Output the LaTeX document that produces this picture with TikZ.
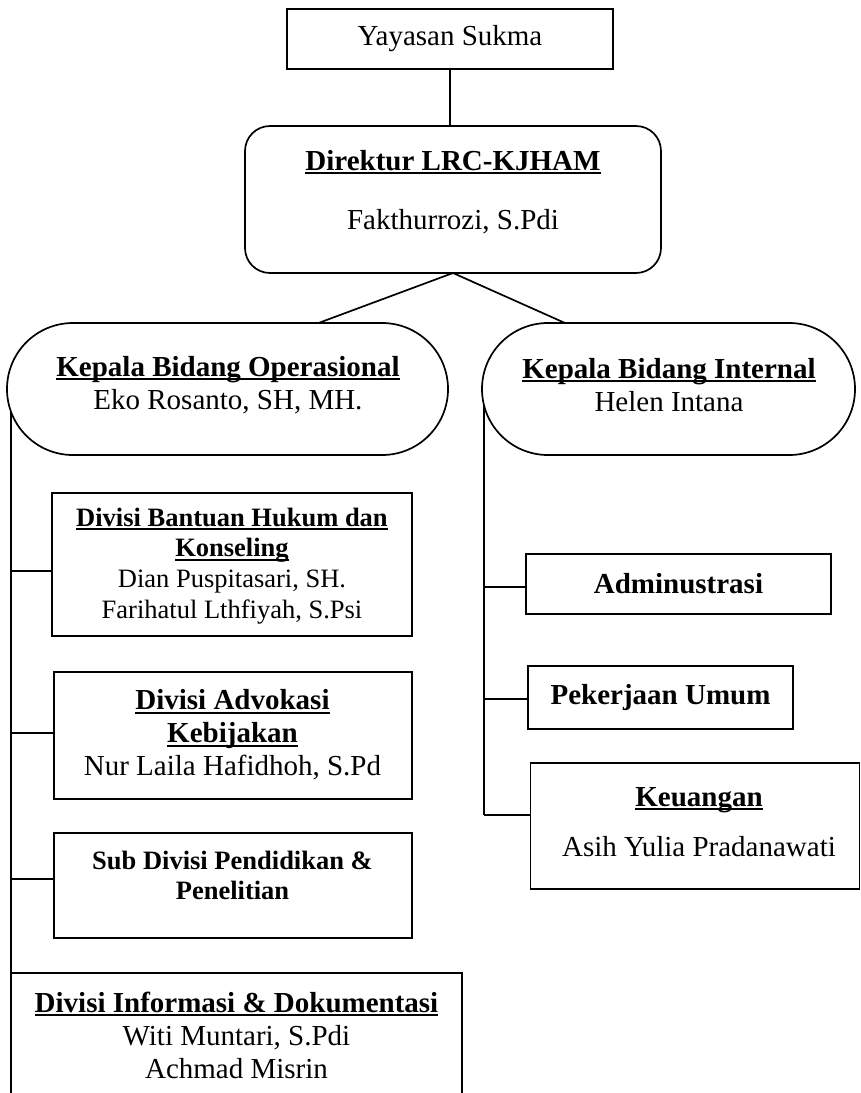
\documentclass[tikz,border=0pt]{standalone}
\usepackage{fontspec}
\setmainfont{Liberation Serif}
\usetikzlibrary{backgrounds,calc}
\newcommand\szA{\fontsize{29}{33}\selectfont}
\newcommand\szB{\fontsize{26.5}{30.7}\selectfont}
\newcommand\ulx[1]{\setbox0=\hbox{#1}\rlap{\rule[-4pt]{\wd0}{2pt}}\box0}
\begin{document}
\begin{tikzpicture}[x=1pt,y=-1pt,line width=1.7pt,
  box/.style={draw,fill=white,rectangle,inner sep=0pt,outer sep=0pt},
  pill/.style={draw,fill=white,rectangle,rounded corners=65.9pt,inner sep=0pt,outer sep=0pt},
  txt/.style={align=center,inner sep=0pt},
  link/.style={line width=1.7pt}]
\useasboundingbox (0,0) rectangle (861,1093);
\clip (0,0) rectangle (861,1093);

% top
\node[box,minimum width=326pt,minimum height=60pt,font=\szA] (ys) at (450,39) {Yayasan Sukma};
\node[box,rounded corners=25pt,minimum width=416pt,minimum height=147pt] (dir) at (453,199.5) {};
\node[txt,font=\szA] (dirt) at (453,192) {\textbf{\ulx{Direktur LRC-KJHAM}}\\[26pt]Fakthurrozi, S.Pdi};

% heads
\node[pill,minimum width=441pt,minimum height=132pt] (kbo) at (227.5,389) {};
\node[txt,font=\szA] (kbot) at (228,385) {\textbf{\ulx{Kepala Bidang Operasional}}\\Eko Rosanto, SH, MH.};
\node[pill,minimum width=373pt,minimum height=132pt] (kbi) at (668.5,389) {};
\node[txt,font=\szA] (kbit) at (669,385) {\textbf{\ulx{Kepala Bidang Internal}}\\Helen Intana};

% left column
\node[box,minimum width=360pt,minimum height=143pt] (dbh) at (232,564.5) {};
\node[txt,font=\szB] (dbht) at (232,566) {\textbf{\ulx{Divisi Bantuan Hukum dan}}\\\textbf{\ulx{Konseling}}\\Dian Puspitasari, SH.\\Farihatul Lthfiyah, S.Psi};
\node[box,minimum width=358pt,minimum height=127pt] (dak) at (233,735.5) {};
\node[txt,font=\szA] (dakt) at (232.5,735) {\textbf{\ulx{Divisi Advokasi}}\\\textbf{\ulx{Kebijakan}}\\Nur Laila Hafidhoh, S.Pd};
\node[box,minimum width=358pt,minimum height=105pt] (sdp) at (233,885.5) {};
\node[txt,font=\szB\bfseries] (sdpt) at (232.5,875.5) {Sub Divisi Pendidikan \&\\Penelitian};
\node[box,minimum width=451pt,minimum height=160pt] (dif) at (236.5,1053) {};
\node[txt,font=\szA] (dift) at (236.5,1035) {\textbf{\ulx{Divisi Informasi \& Dokumentasi}}\\Witi Muntari, S.Pdi\\Achmad Misrin};

% right column
\node[box,minimum width=305pt,minimum height=60pt,font=\szA\bfseries] (adm) at (678.5,584) {Adminustrasi};
\node[box,minimum width=265pt,minimum height=63pt,font=\szA\bfseries] (pek) at (660.5,697.5) {Pekerjaan Umum};
\node[box,minimum width=329pt,minimum height=126pt] (keu) at (695,826) {};
\node[txt,font=\szA] (keut) at (699,822) {\textbf{\ulx{Keuangan}}\\[17pt]Asih Yulia Pradanawati};

\coordinate (Lbot) at (11,1093);
\coordinate (Rbot) at (484,815);

\begin{scope}[on background layer]
\draw[link] (ys.south) -- (ys.south |- dir.north);
\draw[link] ($(kbo.north)+(91,0)$) -- (dir.south) -- ($(kbi.north)+(-103.5,0)$);
\draw[link] (kbo.center -| Lbot) -- (Lbot);
\draw[link] (dbh.west |- 0,571) -- (Lbot |- 0,571);
\draw[link] (dak.west |- 0,733) -- (Lbot |- 0,733);
\draw[link] (sdp.west |- 0,879) -- (Lbot |- 0,879);
\draw[link] (kbi.center -| Rbot) -- (Rbot);
\draw[link] (adm.west |- 0,587) -- (Rbot |- 0,587);
\draw[link] (pek.west |- 0,699) -- (Rbot |- 0,699);
\draw[link] (keu.west |- Rbot) -- (Rbot);
\end{scope}
\end{tikzpicture}
\end{document}
